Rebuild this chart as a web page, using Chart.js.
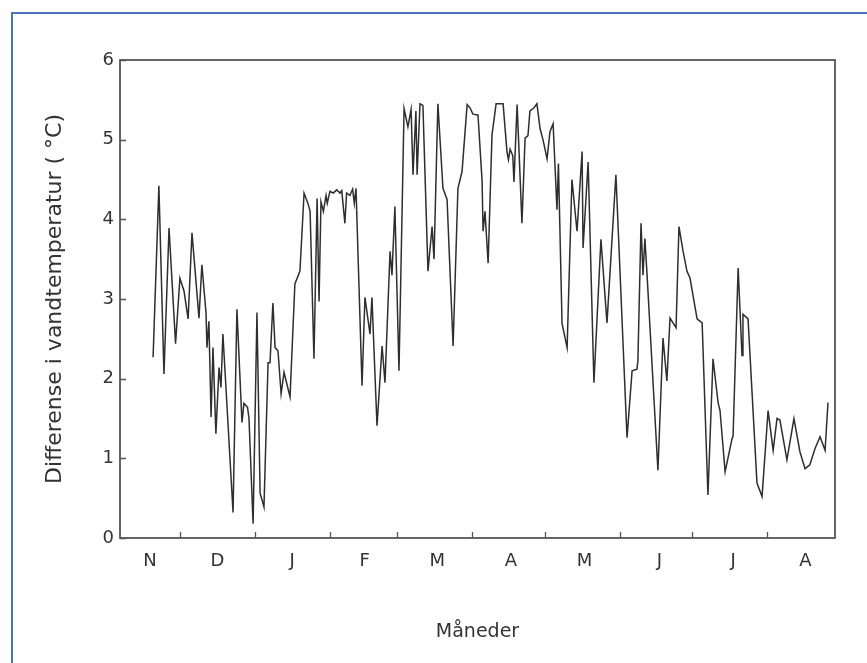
<!DOCTYPE html>
<html>
<head>
<meta charset="utf-8">
<script src="https://cdn.jsdelivr.net/npm/chart.js@4"></script>
<style>
  html, body { margin: 0; padding: 0; background: #fff; }
  #wrap { position: relative; width: 867px; height: 663px; overflow: hidden; }
  #frame { position: absolute; left: 11px; top: 12px; width: 900px; height: 700px;
           border-top: 2px solid #4a74c0; border-left: 2px solid #4a74c0; }
  canvas { position: absolute; left: 0; top: 0; }
</style>
</head>
<body>
<div id="wrap">
  <div id="frame"></div>
  <canvas id="chart" width="867" height="663"></canvas>
</div>
<script>
// days counted from 1 November
const days = [
  18.9, 21.3, 23.4, 25.5, 28.2, 30.0, 31.7, 33.4, 35.0, 37.9, 39.1, 40.8, 41.2, 42.0, 42.9, 43.7,
  44.9, 46.2, 47.0, 47.8, 52.0, 53.6, 55.7, 56.5, 58.0, 58.6, 60.3, 61.9, 63.2, 63.8, 64.8, 66.5,
  67.3, 68.5, 69.4, 70.6, 71.9, 73.1, 75.6, 77.6, 79.7, 81.4, 83.0, 83.9, 85.5, 86.8, 87.6, 88.4,
  89.4, 90.5, 91.0, 92.1, 93.5, 94.9, 96.3, 97.0, 98.3, 99.0, 100.4, 101.5, 102.2, 102.9,
  105.4, 106.6, 108.7, 109.5, 111.6, 113.7, 114.9, 117.0, 117.8, 119.0, 120.7, 122.8, 124.4, 125.7,
  126.5, 127.7, 128.2, 129.4, 130.6, 132.7, 134.4, 135.2, 136.8, 138.9, 140.6, 143.1, 145.1, 146.8,
  148.9, 150.1, 151.3, 153.4, 155.1, 155.5, 156.3, 157.6, 159.2, 160.9, 163.8, 165.4, 166.0, 166.7,
  167.8, 168.3, 169.6, 170.4, 171.6, 172.9, 174.1, 174.9, 176.6, 177.8, 179.1, 180.3, 182.0, 183.2,
  184.5, 186.1, 186.7, 188.2, 190.3, 192.3, 194.4, 196.5, 196.9, 199.0, 201.4, 204.3, 206.8, 210.5,
  215.1, 217.2, 219.2, 219.6, 220.9, 221.7, 222.5, 223.4, 227.9, 230.0, 231.6, 232.9, 235.4, 236.6,
  238.3, 239.9, 241.2, 244.1, 246.2, 248.6, 250.7, 252.8, 253.6, 255.7, 258.6, 259.0, 261.1, 262.7,
  263.1, 265.2, 268.9, 271.0, 273.5, 275.6, 277.2, 278.4, 281.3, 284.2, 286.7, 288.8, 290.8, 292.9,
  295.0, 297.1, 298.3
];
const diffs = [
  2.27, 4.42, 2.06, 3.89, 2.44, 3.26, 3.10, 2.75, 3.83, 2.76, 3.43, 2.83, 2.39, 2.72, 1.52, 2.39,
  1.31, 2.14, 1.89, 2.56, 0.32, 2.87, 1.45, 1.69, 1.64, 1.50, 0.18, 2.83, 0.56, 0.50, 0.39, 2.20,
  2.20, 2.95, 2.39, 2.35, 1.81, 2.08, 1.77, 3.19, 3.35, 4.33, 4.20, 4.10, 2.25, 4.26, 2.97, 4.22,
  4.10, 4.30, 4.20, 4.35, 4.33, 4.37, 4.33, 4.36, 3.95, 4.33, 4.30, 4.38, 4.20, 4.39,
  1.91, 3.02, 2.56, 3.02, 1.41, 2.41, 1.95, 3.60, 3.30, 4.16, 2.10, 5.39, 5.16, 5.38,
  4.56, 5.36, 4.56, 5.45, 5.43, 3.35, 3.91, 3.50, 5.45, 4.39, 4.25, 2.41, 4.39, 4.60,
  5.44, 5.40, 5.32, 5.31, 4.48, 3.85, 4.10, 3.45, 5.06, 5.45, 5.45, 4.85, 4.75, 4.88,
  4.80, 4.47, 5.44, 4.85, 3.95, 5.02, 5.05, 5.36, 5.40, 5.45, 5.14, 5.00, 4.76, 5.10,
  5.20, 4.12, 4.70, 2.69, 2.39, 4.50, 3.85, 4.85, 3.64, 4.72, 1.95, 3.75, 2.70, 4.56,
  1.26, 2.10, 2.12, 2.22, 3.95, 3.30, 3.76, 3.30, 0.85, 2.51, 1.97, 2.76, 2.64, 3.91,
  3.60, 3.35, 3.26, 2.75, 2.70, 0.54, 2.25, 1.70, 1.60, 0.83, 1.25, 1.28, 3.39, 2.29,
  2.81, 2.75, 0.69, 0.52, 1.60, 1.10, 1.50, 1.48, 0.98, 1.50, 1.08, 0.87, 0.92, 1.12,
  1.27, 1.10, 1.70
];
const monthLabels = ["N", "D", "J", "F", "M", "A", "M", "J", "J", "A"];
const monthMid = [17.6, 45.5, 76.5, 106.5, 136.5, 167, 197.5, 228.5, 259, 289];
const monthStarts = [30, 61, 92, 120, 151, 181, 212, 242, 273];
const yTicks = [0, 1, 2, 3, 4, 5, 6];

Chart.defaults.font.family = "'DejaVu Sans', 'Liberation Sans', sans-serif";
Chart.defaults.color = "#333";

const frameAndTicks = {
  id: "frameAndTicks",
  afterDatasetsDraw(chart) {
    const { ctx, chartArea: a, scales: { x, y } } = chart;
    ctx.save();
    ctx.strokeStyle = "#555";
    ctx.lineWidth = 1.8;
    ctx.strokeRect(a.left, a.top, a.right - a.left, a.bottom - a.top);
    ctx.lineWidth = 1.3;
    ctx.beginPath();
    monthStarts.forEach(d => {
      const px = Math.round(x.getPixelForValue(d)) + 0.5;
      ctx.moveTo(px, a.bottom);
      ctx.lineTo(px, a.bottom - 6);
    });
    yTicks.forEach(v => {
      const py = Math.round(y.getPixelForValue(v)) + 0.5;
      ctx.moveTo(a.left, py);
      ctx.lineTo(a.left + 6, py);
    });
    ctx.stroke();
    ctx.restore();
  }
};

new Chart(document.getElementById("chart"), {
  type: "line",
  data: {
    datasets: [{
      data: days.map((d, i) => ({ x: d, y: diffs[i] })),
      borderColor: "#2e2e2e",
      borderWidth: 1.5,
      pointRadius: 0,
      tension: 0,
      fill: false
    }]
  },
  options: {
    responsive: false,
    animation: false,
    devicePixelRatio: 1,
    layout: { padding: { left: 0, top: 60, right: 32, bottom: 0 } },
    plugins: { legend: { display: false }, tooltip: { enabled: false } },
    scales: {
      x: {
        type: "linear",
        min: 5.2,
        max: 301.2,
        afterBuildTicks: s => { s.ticks = monthMid.map(v => ({ value: v })); },
        afterFit: s => { s.height = 125; },
        ticks: {
          autoSkip: false,
          maxRotation: 0,
          padding: 13,
          font: { size: 18 },
          callback: (v, i) => monthLabels[i]
        },
        grid: { display: false, drawTicks: false },
        border: { display: false },
        title: {
          display: true,
          text: "Måneder",
          font: { size: 19 },
          padding: { top: 0, bottom: 20 }
        }
      },
      y: {
        min: 0,
        max: 6,
        afterBuildTicks: s => { s.ticks = yTicks.map(v => ({ value: v })); },
        afterFit: s => { s.width = 120; },
        ticks: { padding: 6, font: { size: 18 } },
        grid: { display: false, drawTicks: false },
        border: { display: false },
        title: {
          display: true,
          text: "Differense i vandtemperatur ( °C)",
          font: { size: 22 },
          padding: { top: 42, bottom: 0 }
        }
      }
    }
  },
  plugins: [frameAndTicks]
});
</script>
</body>
</html>
